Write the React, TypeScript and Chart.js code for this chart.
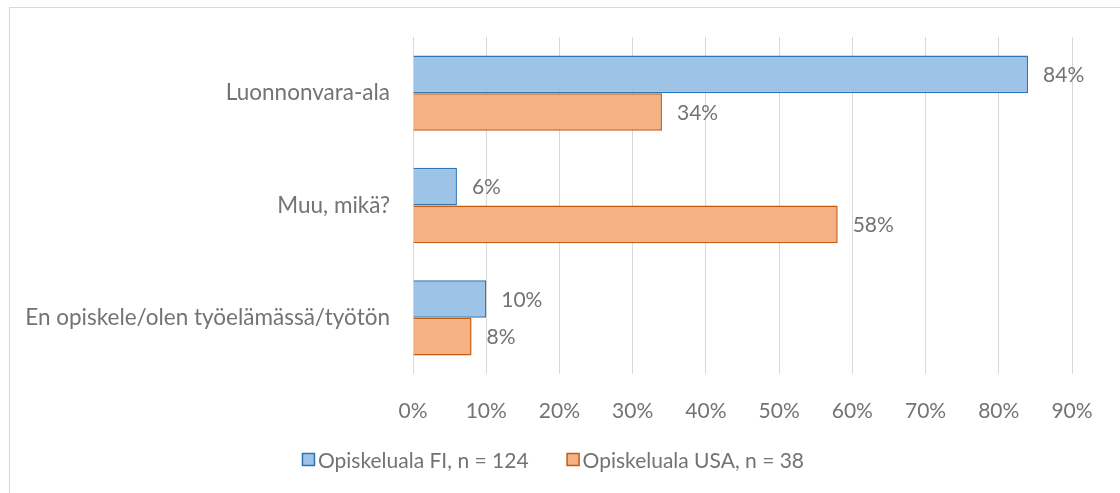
import React, { useEffect, useRef } from "react";
import { Chart, registerables } from "chart.js";

Chart.register(...registerables);

const categories = ["Luonnonvara-ala", "Muu, mikä?", "En opiskele/olen työelämässä/työtön"];
const seriesFI = [84, 6, 10];
const seriesUSA = [34, 58, 8];
const seriesNames = ["Opiskeluala FI, n = 124", "Opiskeluala USA, n = 38"];
const tickValues = [0, 10, 20, 30, 40, 50, 60, 70, 80, 90];

const FONT = "Lato, 'Open Sans', sans-serif";
const TEXT = "#737373";
const FS = 21;

const dataLabels = {
  id: "dataLabels",
  afterDatasetsDraw(chart: any) {
    const ctx = chart.ctx;
    ctx.save();
    ctx.font = `${FS}px ${FONT}`;
    ctx.fillStyle = TEXT;
    ctx.textAlign = "left";
    ctx.textBaseline = "middle";
    chart.data.datasets.forEach((ds: any, di: number) => {
      const meta = chart.getDatasetMeta(di);
      meta.data.forEach((bar: any, i: number) => {
        ctx.fillText(`${ds.data[i]}%`, bar.x + 15, bar.y + 1);
      });
    });
    ctx.restore();
  },
};

const customLegend = {
  id: "customLegend",
  afterDraw(chart: any) {
    const ctx = chart.ctx;
    ctx.save();
    ctx.font = `${FS}px ${FONT}`;
    const box = 13;
    const gap = 3;
    const itemGap = 38;
    const items = chart.data.datasets.map((ds: any) => ({
      text: ds.label,
      fill: ds.backgroundColor,
      stroke: ds.borderColor,
      w: box + gap + ctx.measureText(ds.label).width,
    }));
    const total = items.reduce((s: number, it: any) => s + it.w, 0) + itemGap * (items.length - 1);
    let x = 553 - total / 2;
    const cy = 460;
    items.forEach((it: any) => {
      ctx.fillStyle = it.fill;
      ctx.fillRect(x + 0.5, cy - box / 2, box - 1, box - 1);
      ctx.strokeStyle = it.stroke;
      ctx.lineWidth = 1.5;
      ctx.strokeRect(x + 0.5, cy - box / 2, box - 1, box - 1);
      ctx.fillStyle = TEXT;
      ctx.textAlign = "left";
      ctx.textBaseline = "middle";
      ctx.fillText(it.text, x + box + gap, cy + 1);
      x += it.w + itemGap;
    });
    ctx.restore();
  },
};

export default function App() {
  const ref = useRef<HTMLCanvasElement>(null);
  useEffect(() => {
    if (!ref.current) return;
    const chart = new Chart(ref.current, {
      type: "bar",
      data: {
        labels: categories,
        datasets: [
          {
            label: seriesNames[0],
            data: seriesFI,
            backgroundColor: "#9DC3E6",
            borderColor: "#2E75B6",
            borderWidth: 1.5,
            categoryPercentage: 0.67,
            barPercentage: 1,
          },
          {
            label: seriesNames[1],
            data: seriesUSA,
            backgroundColor: "#F4B183",
            borderColor: "#C55A11",
            borderWidth: 1.5,
            categoryPercentage: 0.67,
            barPercentage: 1,
          },
        ],
      },
      options: {
        indexAxis: "y",
        animation: false,
        responsive: false,
        maintainAspectRatio: false,
        layout: { padding: { top: 37, right: 48, bottom: 69, left: 0 } },
        plugins: {
          legend: { display: false },
          tooltip: { enabled: false },
        },
        scales: {
          x: {
            min: 0,
            max: 90,
            afterBuildTicks(scale: any) {
              scale.ticks = tickValues.map((v) => ({ value: v }));
            },
            afterFit(scale: any) {
              scale.height = 50;
            },
            grid: { color: "#d9d9d9", lineWidth: 1, drawTicks: false },
            border: { display: false },
            ticks: {
              padding: 25,
              color: TEXT,
              font: { family: FONT, size: FS },
              callback: (v: any) => `${v}%`,
            },
          },
          y: {
            afterFit(scale: any) {
              scale.width = 413;
            },
            grid: { display: false, drawTicks: false },
            border: { display: false },
            ticks: {
              padding: 23,
              color: TEXT,
              font: { family: FONT, size: 22.5 },
            },
          },
        },
      },
      plugins: [dataLabels, customLegend],
    });
    return () => chart.destroy();
  }, []);
  return (
    <div style={{ position: "absolute", left: 0, top: 0, width: 1120, height: 493, background: "#fff", overflow: "hidden" }}>
      <div style={{ position: "absolute", left: 9, top: 7, width: 1130, height: 500, border: "1px solid #d9d9d9" }} />
      <canvas ref={ref} width={1120} height={493} style={{ position: "absolute", left: 0, top: 0 }} />
    </div>
  );
}
